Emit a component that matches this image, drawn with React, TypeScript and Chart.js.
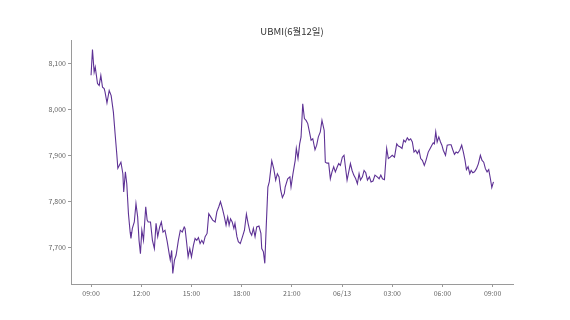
import React, { useEffect, useRef } from "react";
import { Chart, registerables } from "chart.js";

Chart.register(...registerables);

const TITLE = "UBMI(6월12일)";

// minutes since 06/12 09:00
const minutes = [
  0, 5, 11, 15, 23, 29, 35, 41, 47, 50, 57, 65, 72, 80, 86, 92, 96, 101, 107, 114,
  117, 123, 128, 134, 140, 143, 148, 155, 161, 167, 172, 177, 182, 188, 196, 201, 205, 213, 220, 227,
  233, 239, 246, 252, 258, 265, 273, 280, 284, 289, 293, 299, 305, 313, 320, 327, 334,
  337, 343, 348, 354, 360, 367, 373, 379, 385, 391, 397, 403, 409, 416, 422, 429, 436, 445, 451,
  458, 464, 471, 478, 484, 490, 495, 500, 506, 512, 516, 523, 528, 535, 543, 550, 557, 563, 570,
  576, 582, 588, 594, 602, 609, 612, 618, 623, 628, 634, 639, 648, 655, 662, 668, 674, 680, 686, 693,
  696, 705, 713, 717, 724, 732, 736, 742, 748, 753, 759, 765, 771, 777, 783, 789, 795, 803, 809, 815,
  822, 828, 836, 840, 846, 852, 858, 864, 870, 876, 883, 888, 894, 901, 907, 912, 918, 924, 930, 936,
  942, 949, 955, 961, 966, 973, 979, 985, 991, 998, 1004, 1011, 1018, 1026, 1033, 1039, 1045, 1052,
  1060, 1066, 1073, 1080, 1088, 1096, 1102, 1109, 1115, 1121, 1127, 1134, 1140, 1146, 1152, 1158, 1164,
  1170, 1176, 1182, 1188, 1195, 1201, 1209, 1216, 1222, 1227, 1231, 1236, 1241, 1247, 1253, 1258, 1263,
  1271, 1277, 1284, 1291, 1297, 1303, 1309, 1315, 1322, 1329, 1335, 1341, 1346, 1352, 1358, 1363, 1369,
  1375, 1382, 1389, 1396, 1402, 1408, 1414, 1420, 1426, 1432, 1437, 1443,
];

const ubmi = [
  8074, 8130, 8081, 8092, 8056, 8052, 8074, 8048, 8045, 8038, 8014, 8041, 8030, 7994, 7948, 7904, 7872, 7878, 7885, 7860,
  7820, 7864, 7838, 7773, 7733, 7719, 7741, 7755, 7795, 7766, 7715, 7686, 7737, 7715, 7788, 7759, 7755, 7755, 7715, 7697,
  7752, 7723, 7744, 7755, 7733, 7737, 7712, 7686, 7672, 7693, 7643, 7672, 7683, 7715, 7737, 7733, 7744,
  7741, 7708, 7679, 7697, 7679, 7704, 7719, 7715, 7721, 7708, 7715, 7708, 7723, 7730, 7773, 7766, 7759, 7755, 7777,
  7788, 7799, 7784, 7766, 7748, 7766, 7748, 7762, 7755, 7741, 7752, 7723, 7712, 7708, 7723, 7737, 7772, 7752, 7733,
  7726, 7741, 7723, 7744, 7746, 7730, 7697, 7690, 7665, 7744, 7831, 7842, 7888, 7871, 7846, 7860, 7853, 7824, 7808, 7817,
  7831, 7849, 7853, 7831, 7860, 7889, 7915, 7893, 7925, 7940, 8012, 7980, 7976, 7969, 7951, 7933, 7936, 7912, 7922, 7940,
  7951, 7976, 7954, 7885, 7883, 7883, 7849, 7864, 7875, 7864, 7875, 7882, 7878, 7896, 7900, 7875, 7846, 7864, 7882, 7867,
  7857, 7849, 7838, 7860, 7846, 7853, 7867, 7862, 7846, 7853, 7842, 7844, 7857, 7853, 7849, 7857, 7849, 7847,
  7915, 7893, 7896, 7900, 7896, 7925, 7920, 7918, 7915, 7933, 7929, 7938, 7933, 7936, 7929, 7907, 7911,
  7904, 7911, 7893, 7889, 7878, 7889, 7907, 7915, 7922, 7927, 7925, 7951, 7929, 7940, 7929, 7922, 7911,
  7900, 7922, 7923, 7923, 7912, 7902, 7907, 7905, 7911, 7922, 7907, 7889, 7869, 7875, 7860, 7867, 7862,
  7864, 7871, 7882, 7900, 7889, 7885, 7871, 7864, 7869, 7849, 7830, 7842,
];

const xTickMinutes = [0, 180, 360, 540, 720, 900, 1080, 1260, 1440];
const xTickLabels = ["09:00", "12:00", "15:00", "18:00", "21:00", "06/13", "03:00", "06:00", "09:00"];
const yTicks = [7700, 7800, 7900, 8000, 8100];

export default function App() {
  const ref = useRef<HTMLCanvasElement>(null);

  useEffect(() => {
    if (!ref.current) return;
    const axisColor = "#9a9a9a";
    const font = { family: "'Noto Sans CJK KR', 'Noto Sans', sans-serif", size: 7 };
    const chart = new Chart(ref.current, {
      type: "line",
      data: {
        datasets: [
          {
            data: minutes.map((m, i) => ({ x: m, y: ubmi[i] })),
            borderColor: "#5e3295",
            borderWidth: 1.1,
            pointRadius: 0,
            tension: 0,
            fill: false,
          },
        ],
      },
      options: {
        animation: false,
        responsive: false,
        maintainAspectRatio: false,
        layout: { padding: { left: 0, right: 57, top: 0, bottom: 0 } },
        plugins: {
          legend: { display: false },
          tooltip: { enabled: false },
          title: {
            display: true,
            fullSize: false,
            text: TITLE,
            color: "#333",
            font: { family: "'Noto Sans CJK KR', sans-serif", size: 9.5, weight: "normal" },
            padding: { top: 26, bottom: 3 },
          },
        },
        scales: {
          x: {
            type: "linear",
            min: -72,
            max: 1513,
            afterBuildTicks: (s: any) => {
              s.ticks = xTickMinutes.map((v) => ({ value: v }));
            },
            afterFit: (s: any) => {
              s.height = 36;
            },
            ticks: {
              color: "#666",
              font,
              padding: 2,
              maxRotation: 0,
              autoSkip: false,
              callback: (v: any) => {
                const i = xTickMinutes.indexOf(Number(v));
                return i >= 0 ? xTickLabels[i] : "";
              },
            },
            grid: { display: true, drawOnChartArea: false, drawTicks: true, tickLength: 3, color: axisColor },
            border: { display: true, color: axisColor, width: 1 },
          },
          y: {
            type: "linear",
            min: 7620,
            max: 8150,
            afterBuildTicks: (s: any) => {
              s.ticks = yTicks.map((v) => ({ value: v }));
            },
            afterFit: (s: any) => {
              s.width = 71;
            },
            ticks: {
              color: "#666",
              font,
              padding: 2,
              callback: (v: any) => Number(v).toLocaleString("en-US"),
            },
            grid: { display: true, drawOnChartArea: false, drawTicks: true, tickLength: 3, color: axisColor },
            border: { display: true, color: axisColor, width: 1 },
          },
        },
      },
    });
    return () => chart.destroy();
  }, []);

  return (
    <div style={{ position: "fixed", left: 0, top: 0, width: 570, height: 320, background: "#fff" }}>
      <canvas ref={ref} width={570} height={320} style={{ display: "block", width: 570, height: 320 }} />
    </div>
  );
}
